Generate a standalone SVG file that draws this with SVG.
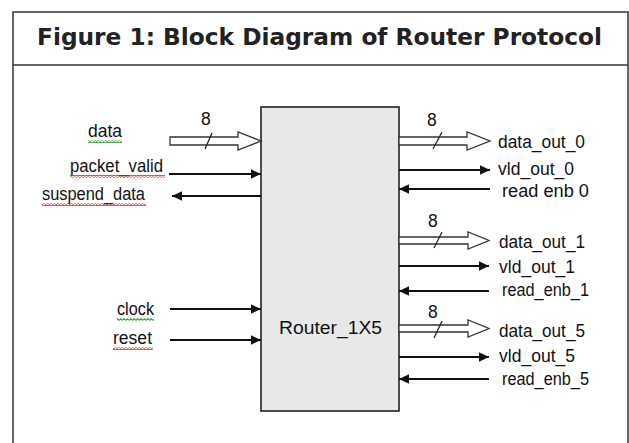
<svg xmlns="http://www.w3.org/2000/svg" width="629" height="443" viewBox="0 0 629 443">
  <defs>
    <style>
      .frame { fill: none; stroke: #333; stroke-width: 1.5; }
      .lbl { font-family: "Liberation Sans", Arial, sans-serif; font-size: 17.5px; fill: #111; }
      .title { font-family: "DejaVu Sans", Verdana, sans-serif; font-weight: bold; font-size: 23px; fill: #222; }
      .wire { stroke: #111; stroke-width: 1.8; fill: none; }
      .bus { fill: #fff; stroke: #333; stroke-width: 1.3; }
      .slash { stroke: #222; stroke-width: 1.3; }
      .block { fill: #e8e8e8; stroke: #222; stroke-width: 1.6; }
    </style>
    <marker id="head" viewBox="0 0 10 10" refX="10" refY="5" markerWidth="10" markerHeight="10" markerUnits="userSpaceOnUse" orient="auto">
      <path d="M0,0.3 L10,5 L0,9.7 Z" fill="#111"/>
    </marker>
    <pattern id="wavyRed" width="3.4" height="3" patternUnits="userSpaceOnUse">
      <path d="M0,2.4 L1.7,0.6 L3.4,2.4" fill="none" stroke="#e02020" stroke-width="1"/>
    </pattern>
    <pattern id="wavyGreen" width="3.4" height="3" patternUnits="userSpaceOnUse">
      <path d="M0,2.4 L1.7,0.6 L3.4,2.4" fill="none" stroke="#229922" stroke-width="1"/>
    </pattern>
  </defs>

  <rect width="629" height="443" fill="#fff"/>

  <!-- figure frame and caption -->
  <g id="caption">
    <path class="frame" d="M13,450 L13,12 L628,12 L628,450"/>
    <line class="frame" x1="13" y1="65" x2="628" y2="65"/>
    <text class="title" x="37" y="45" textLength="565" lengthAdjust="spacingAndGlyphs">Figure 1: Block Diagram of Router Protocol</text>
  </g>

  <!-- router block -->
  <g id="router">
    <rect class="block" x="261" y="107" width="138" height="304"/>
    <text class="lbl" x="279" y="334" font-size="21" textLength="103" lengthAdjust="spacingAndGlyphs">Router_1X5</text>
  </g>

  <!-- connectors -->
  <g id="connectors">
    <!-- 8-bit buses -->
    <polygon class="bus" points="170,137 238,137 238,132 261,141 238,150 238,145 170,145"/>
    <line class="slash" x1="205" y1="149" x2="212" y2="133"/>
    <polygon class="bus" points="399,137 467,137 467,132 490,141 467,150 467,145 399,145"/>
    <line class="slash" x1="433" y1="149" x2="442" y2="132"/>
    <polygon class="bus" points="399,237 468,237 468,232 489,240.5 468,249 468,244 399,244"/>
    <line class="slash" x1="434" y1="248" x2="442" y2="232"/>
    <polygon class="bus" points="399,325 468,325 468,320 489,328.5 468,337 468,332 399,332"/>
    <line class="slash" x1="434" y1="338" x2="442" y2="321"/>

    <!-- single-bit inputs -->
    <line class="wire" x1="169" y1="174" x2="261" y2="174" marker-end="url(#head)"/>
    <line class="wire" x1="170" y1="309" x2="261" y2="309" marker-end="url(#head)"/>
    <line class="wire" x1="170" y1="340" x2="261" y2="340" marker-end="url(#head)"/>
    <!-- single-bit outputs -->
    <line class="wire" x1="261" y1="196" x2="172" y2="196" marker-end="url(#head)"/>
    <line class="wire" x1="399" y1="170" x2="490" y2="170" marker-end="url(#head)"/>
    <line class="wire" x1="490" y1="189" x2="399" y2="189" marker-end="url(#head)"/>
    <line class="wire" x1="399" y1="266" x2="489" y2="266" marker-end="url(#head)"/>
    <line class="wire" x1="489" y1="291" x2="399" y2="291" marker-end="url(#head)"/>
    <line class="wire" x1="399" y1="357" x2="489" y2="357" marker-end="url(#head)"/>
    <line class="wire" x1="489" y1="379" x2="399" y2="379" marker-end="url(#head)"/>
  </g>

  <!-- port labels, left side -->
  <g id="port-data">
    <text class="lbl" x="201" y="125">8</text>
    <text class="lbl" x="88" y="137" textLength="34" lengthAdjust="spacingAndGlyphs">data</text>
    <rect x="88" y="140" width="34" height="3" fill="url(#wavyGreen)"/>
  </g>
  <g id="port-packet-valid">
    <text class="lbl" x="70" y="172" textLength="93" lengthAdjust="spacingAndGlyphs">packet_valid</text>
    <rect x="70" y="175" width="95" height="3" fill="url(#wavyRed)"/>
  </g>
  <g id="port-suspend-data">
    <text class="lbl" x="42" y="200" textLength="103" lengthAdjust="spacingAndGlyphs">suspend_data</text>
    <rect x="42" y="203" width="104" height="3" fill="url(#wavyRed)"/>
  </g>
  <g id="port-clock">
    <text class="lbl" x="117" y="315" textLength="37" lengthAdjust="spacingAndGlyphs">clock</text>
    <rect x="117" y="318" width="37" height="3" fill="url(#wavyGreen)"/>
  </g>
  <g id="port-reset">
    <text class="lbl" x="113" y="344" textLength="39" lengthAdjust="spacingAndGlyphs">reset</text>
    <rect x="113" y="347" width="40" height="3" fill="url(#wavyRed)"/>
  </g>

  <!-- port labels, right side -->
  <g id="port-out-0">
    <text class="lbl" x="427" y="126">8</text>
    <text class="lbl" x="498" y="148" textLength="87" lengthAdjust="spacingAndGlyphs">data_out_0</text>
    <text class="lbl" x="498" y="175" textLength="76" lengthAdjust="spacingAndGlyphs">vld_out_0</text>
    <text class="lbl" x="502" y="197" textLength="87" lengthAdjust="spacingAndGlyphs">read enb 0</text>
  </g>
  <g id="port-out-1">
    <text class="lbl" x="428" y="227">8</text>
    <text class="lbl" x="499" y="248" textLength="86" lengthAdjust="spacingAndGlyphs">data_out_1</text>
    <text class="lbl" x="499" y="273" textLength="76" lengthAdjust="spacingAndGlyphs">vld_out_1</text>
    <text class="lbl" x="502" y="296" textLength="87" lengthAdjust="spacingAndGlyphs">read_enb_1</text>
  </g>
  <g id="port-out-5">
    <text class="lbl" x="428" y="318">8</text>
    <text class="lbl" x="499" y="337" textLength="86" lengthAdjust="spacingAndGlyphs">data_out_5</text>
    <text class="lbl" x="499" y="362" textLength="76" lengthAdjust="spacingAndGlyphs">vld_out_5</text>
    <text class="lbl" x="502" y="385" textLength="87" lengthAdjust="spacingAndGlyphs">read_enb_5</text>
  </g>
</svg>
